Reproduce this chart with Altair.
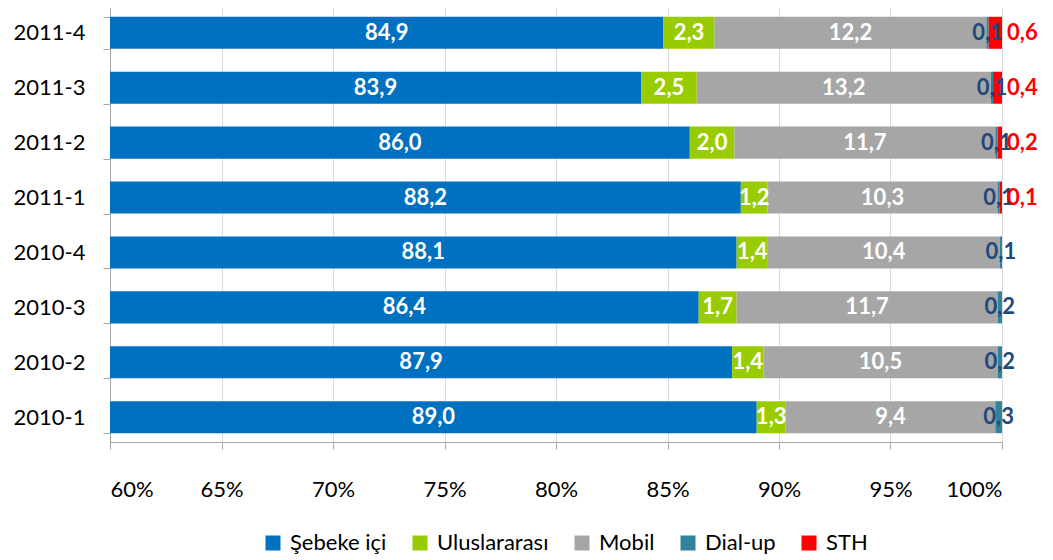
import altair as alt
import pandas as pd

periods = ["2011-4", "2011-3", "2011-2", "2011-1", "2010-4", "2010-3", "2010-2", "2010-1"]
series = ["Şebeke içi", "Uluslararası", "Mobil", "Dial-up", "STH"]
sebeke = [84.9, 83.9, 86.0, 88.2, 88.1, 86.4, 87.9, 89.0]
ulus = [2.3, 2.5, 2.0, 1.2, 1.4, 1.7, 1.4, 1.3]
mobil = [12.2, 13.2, 11.7, 10.3, 10.4, 11.7, 10.5, 9.4]
dialup = [0.1, 0.1, 0.1, 0.1, 0.1, 0.2, 0.2, 0.3]
sth = [0.6, 0.4, 0.2, 0.1, 0.0, 0.0, 0.0, 0.0]
colors = ["#0070C0", "#99CC00", "#A6A6A6", "#31849B", "#FF0000"]
x_ticks = [0.60, 0.65, 0.70, 0.75, 0.80, 0.85, 0.90, 0.95, 1.00]

rows = []
for vals_i, (name, vals) in enumerate(zip(series, [sebeke, ulus, mobil, dialup, sth])):
    for p, v in zip(periods, vals):
        rows.append({"period": p, "series": name, "order": vals_i, "value": v})
df = pd.DataFrame(rows)

FONT = "Lato"
AX = 22
LBL = 22

base = (
    alt.Chart(df)
    .transform_stack(
        stack="value",
        groupby=["period"],
        as_=["s0", "s1"],
        sort=[alt.SortField("order", order="ascending")],
        offset="normalize",
    )
    .transform_calculate(
        mid="(max(datum.s0, 0.6) + datum.s1) / 2",
        label="replace(format(datum.value, '.1f'), '.', ',')",
    )
)

yenc = alt.Y(
    "period:N",
    sort=periods,
    scale=alt.Scale(paddingInner=0.417, paddingOuter=0.16),
    axis=alt.Axis(
        title=None,
        labelFontSize=AX,
        labelFont=FONT,
        labelColor="#000000",
        labelPadding=18,
        domainColor="#A6A6A6",
        tickColor="#A6A6A6",
        tickSize=7,
        tickBand="extent",
        grid=False,
    ),
)

xscale = alt.Scale(domain=[0.6, 1.0], nice=False, zero=False)

bars = base.mark_bar(clip=True).encode(
    y=yenc,
    x=alt.X(
        "s0:Q",
        scale=xscale,
        axis=alt.Axis(
            title=None,
            values=x_ticks,
            format=".0%",
            labelFontSize=AX,
            labelFont=FONT,
            labelColor="#000000",
            labelPadding=30,
            tickSize=7,
            tickColor="#A6A6A6",
            domainColor="#A6A6A6",
            grid=True,
            gridColor="#D9D9D9",
        ),
    ),
    x2="s1:Q",
    color=alt.Color(
        "series:N",
        scale=alt.Scale(domain=series, range=colors),
        sort=series,
        legend=alt.Legend(
            title=None,
            orient="none",
            legendX=152,
            legendY=524,
            direction="horizontal",
            symbolType="square",
            symbolSize=225,
            symbolStrokeWidth=0,
            labelFontSize=AX,
            labelFont=FONT,
            labelColor="#000000",
            labelOffset=6,
            columnPadding=22,
        ),
    ),
)

inner = base.transform_filter(
    alt.FieldOneOfPredicate(field="series", oneOf=series[:3])
).mark_text(color="white", fontWeight="bold", fontSize=LBL, font=FONT).encode(
    y=alt.Y("period:N", sort=periods),
    x=alt.X("mid:Q", scale=xscale),
    text="label:N",
)

dial = base.transform_filter(
    alt.FieldEqualPredicate(field="series", equal="Dial-up")
).mark_text(color="#1F497D", fontWeight="bold", fontSize=LBL, font=FONT).encode(
    y=alt.Y("period:N", sort=periods),
    x=alt.X("mid:Q", scale=xscale),
    text="label:N",
)

sthl = base.transform_filter(
    "datum.series == 'STH' && datum.value > 0"
).mark_text(color="#FF0000", fontWeight="bold", fontSize=LBL, font=FONT, align="left", dx=5).encode(
    y=alt.Y("period:N", sort=periods),
    x=alt.X("s1:Q", scale=xscale),
    text="label:N",
)

chart = (
    alt.layer(bars, inner, dial, sthl)
    .properties(
        width=892,
        height=434,
        autosize=alt.AutoSizeParams(type="none"),
        padding={"left": 102, "top": 0, "right": 43, "bottom": 117},
    )
    .configure_view(stroke=None)
)

chart.save("out.html", embed_options={"renderer": "svg", "actions": False})
